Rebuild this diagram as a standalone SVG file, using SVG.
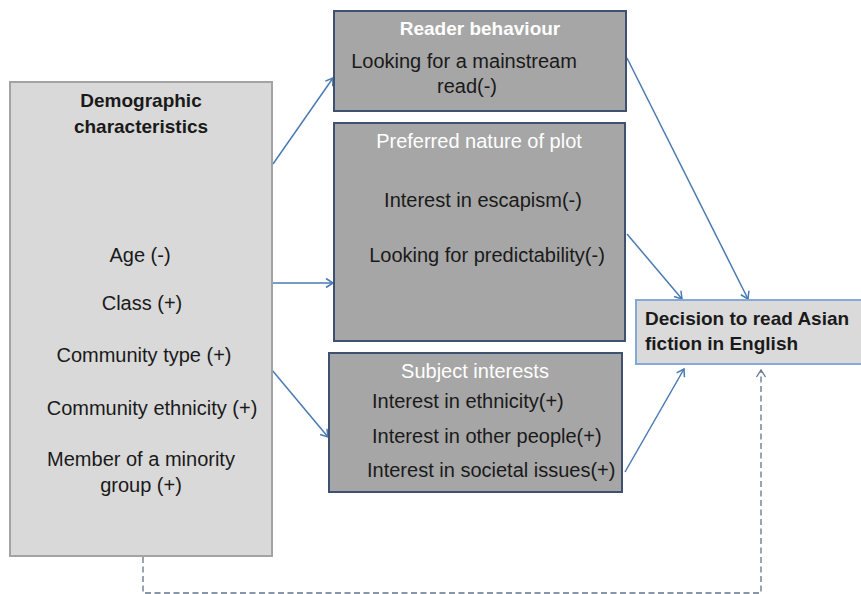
<svg xmlns="http://www.w3.org/2000/svg" width="861" height="594" viewBox="0 0 861 594">
  <defs>
    <style>
      .t { font-family: "Liberation Sans", Arial, sans-serif; fill: #1a1a1a; font-size: 20px; }
      .b { font-weight: bold; font-size: 19px; }
      .w { fill: #ffffff; }
      .demo { fill: #d9d9d9; stroke: #a3a3a3; stroke-width: 2; }
      .factor { fill: #a6a6a6; stroke: #3e5170; stroke-width: 2; }
      .outcome { fill: #dadada; stroke: #86aad6; stroke-width: 2; }
      .link { fill: none; stroke: #4a7ab4; stroke-width: 1.5; }
      .dash { fill: none; stroke: #62748a; stroke-width: 1.3; stroke-dasharray: 6 3.5; }
    </style>
    <marker id="open" viewBox="0 0 12 12" refX="10" refY="6" markerWidth="12" markerHeight="12" markerUnits="userSpaceOnUse" orient="auto">
      <path d="M3,1.5 L10,6 L3,10.5" fill="none" stroke="#4a7ab4" stroke-width="1.5"/>
    </marker>
    <marker id="openDash" viewBox="0 0 12 12" refX="10" refY="6" markerWidth="12" markerHeight="12" markerUnits="userSpaceOnUse" orient="auto">
      <path d="M3,1.5 L10,6 L3,10.5" fill="none" stroke="#62748a" stroke-width="1.3"/>
    </marker>
  </defs>

  <rect width="861" height="594" fill="#ffffff"/>

  <!-- connectors -->
  <g id="connectors">
    <line class="link" x1="273" y1="164" x2="333" y2="78" marker-end="url(#open)"/>
    <line class="link" x1="263" y1="283" x2="333" y2="283" marker-end="url(#open)"/>
    <line class="link" x1="272" y1="370" x2="328" y2="437" marker-end="url(#open)"/>
    <line class="link" x1="627" y1="58" x2="748" y2="299" marker-end="url(#open)"/>
    <line class="link" x1="627" y1="234" x2="682" y2="299" marker-end="url(#open)"/>
    <line class="link" x1="625" y1="472" x2="684" y2="369" marker-end="url(#open)"/>
    <polyline class="dash" points="143,557 143,593 761,593 761,370" marker-end="url(#openDash)"/>
  </g>

  <!-- demographic characteristics -->
  <g id="demographics">
    <rect class="demo" x="10" y="82" width="262" height="474"/>
    <text class="t b" text-anchor="middle" x="141" y="107">Demographic</text>
    <text class="t b" text-anchor="middle" x="141" y="133">characteristics</text>
    <text class="t" text-anchor="middle" x="140" y="262">Age (-)</text>
    <text class="t" text-anchor="middle" x="142" y="310">Class (+)</text>
    <text class="t" text-anchor="middle" x="144" y="362">Community type (+)</text>
    <text class="t" text-anchor="middle" x="152" y="415">Community ethnicity (+)</text>
    <text class="t" text-anchor="middle" x="141" y="466">Member of a minority</text>
    <text class="t" text-anchor="middle" x="141" y="492">group (+)</text>
  </g>

  <!-- reader behaviour -->
  <g id="reader-behaviour">
    <rect class="factor" x="334" y="11" width="292" height="100"/>
    <text class="t b w" text-anchor="middle" x="480" y="35">Reader behaviour</text>
    <text class="t" text-anchor="middle" x="464" y="68">Looking for a mainstream</text>
    <text class="t" text-anchor="middle" x="467" y="93">read(-)</text>
  </g>

  <!-- preferred nature of plot -->
  <g id="plot-preference">
    <rect class="factor" x="334" y="123" width="291" height="218"/>
    <text class="t w" text-anchor="middle" x="479" y="148">Preferred nature of plot</text>
    <text class="t" text-anchor="middle" x="483" y="207">Interest in escapism(-)</text>
    <text class="t" text-anchor="middle" x="487" y="262">Looking for predictability(-)</text>
  </g>

  <!-- subject interests -->
  <g id="subject-interests">
    <rect class="factor" x="329" y="353" width="293" height="139"/>
    <text class="t w" text-anchor="middle" x="475" y="378">Subject interests</text>
    <text class="t" x="372" y="408">Interest in ethnicity(+)</text>
    <text class="t" x="372" y="443">Interest in other people(+)</text>
    <text class="t" x="367" y="477">Interest in societal issues(+)</text>
  </g>

  <!-- outcome -->
  <g id="decision">
    <rect class="outcome" x="636" y="300" width="226" height="64"/>
    <text class="t b" x="645" y="325">Decision to read Asian</text>
    <text class="t b" x="645" y="350">fiction in English</text>
  </g>
</svg>
